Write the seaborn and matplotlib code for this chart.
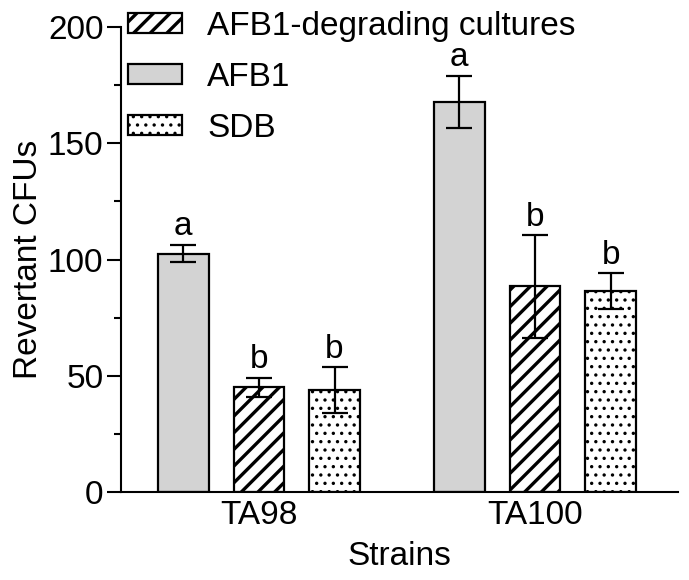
import matplotlib
matplotlib.use("Agg")
import matplotlib.pyplot as plt
import matplotlib.patches as mpatches
from matplotlib.ticker import MultipleLocator
import seaborn as sns
import pandas as pd

# ---- data ----
strains = ["TA98", "TA100"]
treatments = ["AFB1", "AFB1-degrading cultures", "SDB"]
legend_order = ["AFB1-degrading cultures", "AFB1", "SDB"]
afb1_mean = [102.5, 167.8]
degr_mean = [45.0, 88.4]
sdb_mean = [43.8, 86.3]
afb1_err = [3.7, 11.3]
degr_err = [4.1, 22.0]
sdb_err = [9.7, 7.7]
afb1_letters = ["a", "a"]
degr_letters = ["b", "b"]
sdb_letters = ["b", "b"]
y_ticks = [0, 50, 100, 150, 200]

means = {"AFB1": afb1_mean, "AFB1-degrading cultures": degr_mean, "SDB": sdb_mean}
errs = {"AFB1": afb1_err, "AFB1-degrading cultures": degr_err, "SDB": sdb_err}
letters = {"AFB1": afb1_letters, "AFB1-degrading cultures": degr_letters, "SDB": sdb_letters}

df = pd.DataFrame([
    {"Strains": s, "Treatment": t, "Value": means[t][i]}
    for t in treatments for i, s in enumerate(strains)
])

styles = {
    "AFB1": dict(facecolor="#d3d3d3", hatch="", hlw=1.0),
    "AFB1-degrading cultures": dict(facecolor="white", hatch="//", hlw=2.4),
    "SDB": dict(facecolor="white", hatch="..", hlw=1.2),
}

sns.set_style("ticks")
plt.rcParams["font.family"] = ["Liberation Sans", "DejaVu Sans"]
plt.rcParams["hatch.linewidth"] = 1.0
for k in ("text.color", "axes.labelcolor", "xtick.color", "ytick.color", "axes.edgecolor"):
    plt.rcParams[k] = "black"
FS = 24

fig = plt.figure(figsize=(6.89, 5.80), dpi=100)
ax = fig.add_axes([0.1763, 0.1522, 0.8073, 0.8007])

sns.barplot(data=df, x="Strains", y="Value", hue="Treatment",
            order=strains, hue_order=treatments, errorbar=None,
            width=0.822, gap=0.332, legend=False, ax=ax,
            palette={t: styles[t]["facecolor"] for t in treatments},
            edgecolor="black", linewidth=1.6, saturation=1)


def set_hlw(p, lw):
    if hasattr(p, "set_hatch_linewidth"):
        p.set_hatch_linewidth(lw)


for t, cont in zip(treatments, ax.containers):
    st = styles[t]
    xs, ys = [], []
    for bar in cont:
        bar.set_facecolor(st["facecolor"])
        bar.set_hatch(st["hatch"])
        bar.set_edgecolor("black")
        set_hlw(bar, st["hlw"])
        xs.append(bar.get_x() + bar.get_width() / 2)
        ys.append(bar.get_height())
    ax.errorbar(xs, ys, yerr=errs[t], fmt="none", ecolor="black",
                elinewidth=1.6, capsize=9.5, capthick=1.6, zorder=5)
    for x, y, e, lab in zip(xs, ys, errs[t], letters[t]):
        ax.annotate(lab, (x, y + e), xytext=(0, 2), textcoords="offset points",
                    ha="center", va="bottom", fontsize=FS, color="black")

ax.set_ylim(0, 200)
ax.set_xlim(-0.498, 1.517)
ax.set_yticks(y_ticks)
ax.yaxis.set_minor_locator(MultipleLocator(25))
ax.tick_params(axis="y", which="major", length=10, width=1.5, labelsize=FS, pad=3)
ax.tick_params(axis="y", which="minor", length=5, width=1.5)
ax.tick_params(axis="x", length=0, labelsize=FS, pad=6)
ax.set_xlabel("Strains", fontsize=FS, labelpad=7)
ax.set_ylabel("Revertant CFUs", fontsize=FS, labelpad=3)
sns.despine(ax=ax)
for sp in ("left", "bottom"):
    ax.spines[sp].set_linewidth(1.5)
    ax.spines[sp].set_color("black")

handles = []
for t in legend_order:
    st = styles[t]
    h = mpatches.Patch(facecolor=st["facecolor"], edgecolor="black",
                       hatch=st["hatch"], linewidth=1.6, label=t)
    handles.append(h)
leg = ax.legend(handles=handles, loc="upper left", bbox_to_anchor=(0.0117, 1.035),
                frameon=False, fontsize=FS, handlelength=1.63, handleheight=0.55,
                handletextpad=0.75, labelspacing=0.6, borderpad=0, borderaxespad=0)
for t, p in zip(legend_order, leg.get_patches()):
    set_hlw(p, styles[t]["hlw"])

fig.savefig("out.png", dpi=100)
